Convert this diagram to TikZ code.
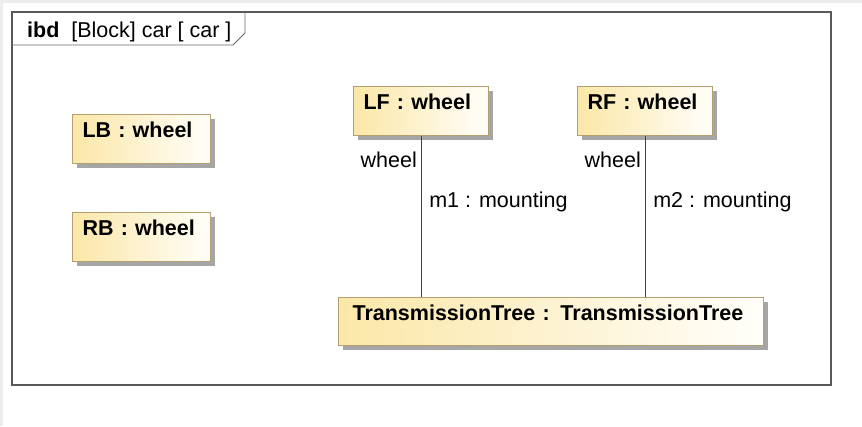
\documentclass[tikz,border=0pt]{standalone}
\usepackage{fontspec}
\setmainfont{Liberation Sans}
\usetikzlibrary{positioning,shadows}

\definecolor{partleft}{RGB}{251,231,168}
\definecolor{partright}{RGB}{255,254,250}
\definecolor{partline}{RGB}{180,160,110}

\begin{document}
\begin{tikzpicture}[
	x=1pt, y=-1pt,
	part/.style={rectangle, draw=partline, line width=1.1pt, anchor=north west,
		left color=partleft, right color=partright,
		drop shadow={shadow xshift=4pt, shadow yshift=-4pt, fill=black!35, opacity=1},
		inner xsep=10pt, inner ysep=6pt, text height=17pt, text depth=20pt,
		align=left, font=\bfseries},
	lbl/.style={inner sep=0pt},
	wire/.style={draw=black!75, line width=0.9pt},
	]
	\fontsize{21.5}{25}\selectfont
	% background and frame
	\fill[black!7] (0,0) rectangle (862,426);
	\fill[white] (3,3) rectangle (862,426);
	\useasboundingbox (0,0) rectangle (862,426);
	\draw[black!65, line width=1.6pt] (12,12) rectangle (831,385);
	\draw[black!60, line width=0.9pt] (12,45) -- (233,45) -- (245,33) -- (245,12);
	\node (title) [lbl, anchor=base west] at (27,37) {\textbf{ibd}\ \ [Block] car [ car ]};
	% parts
	\node (LB) [part, text width=118pt] at (72,114) {LB : wheel};
	\node (RB) [part, text width=118pt] at (72,212) {RB : wheel};
	\node (LF) [part, text width=115pt] at (353,86) {LF : wheel};
	\node (RF) [part, text width=115pt] at (577,86) {RF : wheel};
	\node (TT) [part, text width=397pt, inner xsep=14pt, text depth=19pt] at (338,297)
		{TransmissionTree : TransmissionTree};
	% connectors
	\draw[wire] (LF.south) -- (LF.south |- TT.north);
	\draw[wire] (RF.south) -- (RF.south |- TT.north);
	\node (LFend) [lbl, anchor=base east] at ([shift={(-4,31)}]LF.south) {wheel};
	\node (RFend) [lbl, anchor=base east] at ([shift={(-4,31)}]RF.south) {wheel};
	\node (m1) [lbl, anchor=base west] at ([shift={(8,71.5)}]LF.south) {m1 : mounting};
	\node (m2) [lbl, anchor=base west] at ([shift={(8,71.5)}]RF.south) {m2 : mounting};
\end{tikzpicture}
\end{document}
